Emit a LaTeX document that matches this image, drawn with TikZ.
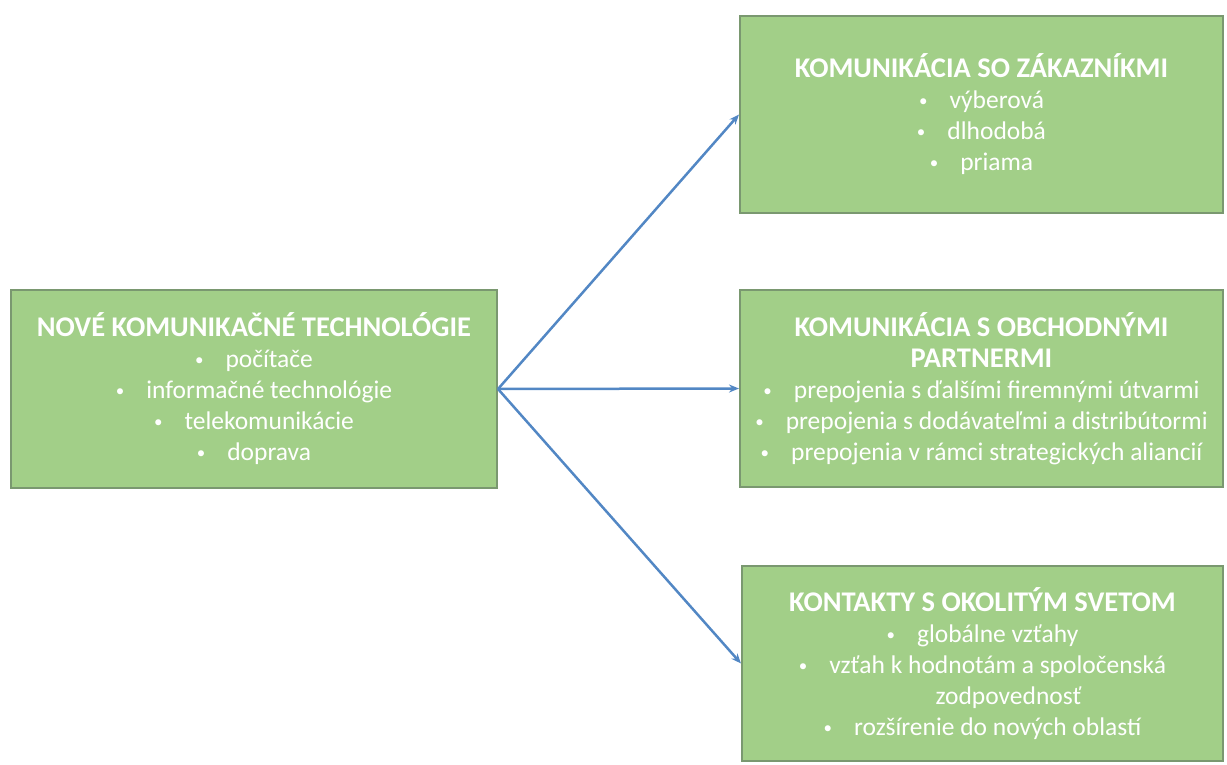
\documentclass[tikz,border=0pt]{standalone}
\usepackage{fontspec}
\setmainfont{Carlito}
\usetikzlibrary{arrows.meta}
\definecolor{boxgreen}{HTML}{A2CF88}
\definecolor{boxline}{HTML}{7A9870}
\definecolor{arrblue}{HTML}{5287C4}
\newcommand{\bod}{{\fontsize{17}{17}\selectfont\raisebox{2pt}{\textbullet}}\hspace{22pt}}
\newcommand{\hlav}[1]{{\fontsize{28.5}{31}\selectfont\bfseries #1}}

\begin{document}
\begin{tikzpicture}[x=1pt,y=-1pt,
    box/.style={draw=boxline,fill=boxgreen,line width=2pt,text=white,align=center,
      inner sep=0pt,font=\fontsize{25.5}{31}\selectfont},
    link/.style={arrblue,line width=2.5pt,-{Stealth[length=10pt,width=8pt]}}]
  \useasboundingbox(0,0)rectangle(1227,765);
  \node[box,minimum width=486pt,minimum height=198pt](tech)at(254,389){%
    \hlav{NOVÉ KOMUNIKAČNÉ TECHNOLÓGIE}\\\bod počítače\\\bod informačné technológie\\
    \bod telekomunikácie\\\bod doprava};
  \node[box,minimum width=483pt,minimum height=197pt](zak)at(981.5,114.5){%
    \hlav{KOMUNIKÁCIA SO ZÁKAZNÍKMI}\\\bod výberová\\\bod dlhodobá\\\bod priama};
  \node[box,minimum width=483pt,minimum height=197pt](obch)at(981.5,388.5){%
    \hlav{KOMUNIKÁCIA S OBCHODNÝMI}\\\hlav{PARTNERMI}\\
    \bod prepojenia s ďalšími firemnými útvarmi\\
    \bod prepojenia s dodávateľmi a distribútormi\\
    \bod prepojenia v rámci strategických aliancií};
  \node[box,minimum width=481pt,minimum height=195pt](svet)at(982.5,663.5){%
    \hlav{KONTAKTY S OKOLITÝM SVETOM}\\\bod globálne vzťahy\\
    \bod vzťah k hodnotám a spoločenská\\\hspace*{52pt}zodpovednosť\\
    \bod rozšírenie do nových oblastí};
  \foreach \n in{zak,obch,svet}
    \draw[link](tech.east)--(\n.west);
\end{tikzpicture}
\end{document}
